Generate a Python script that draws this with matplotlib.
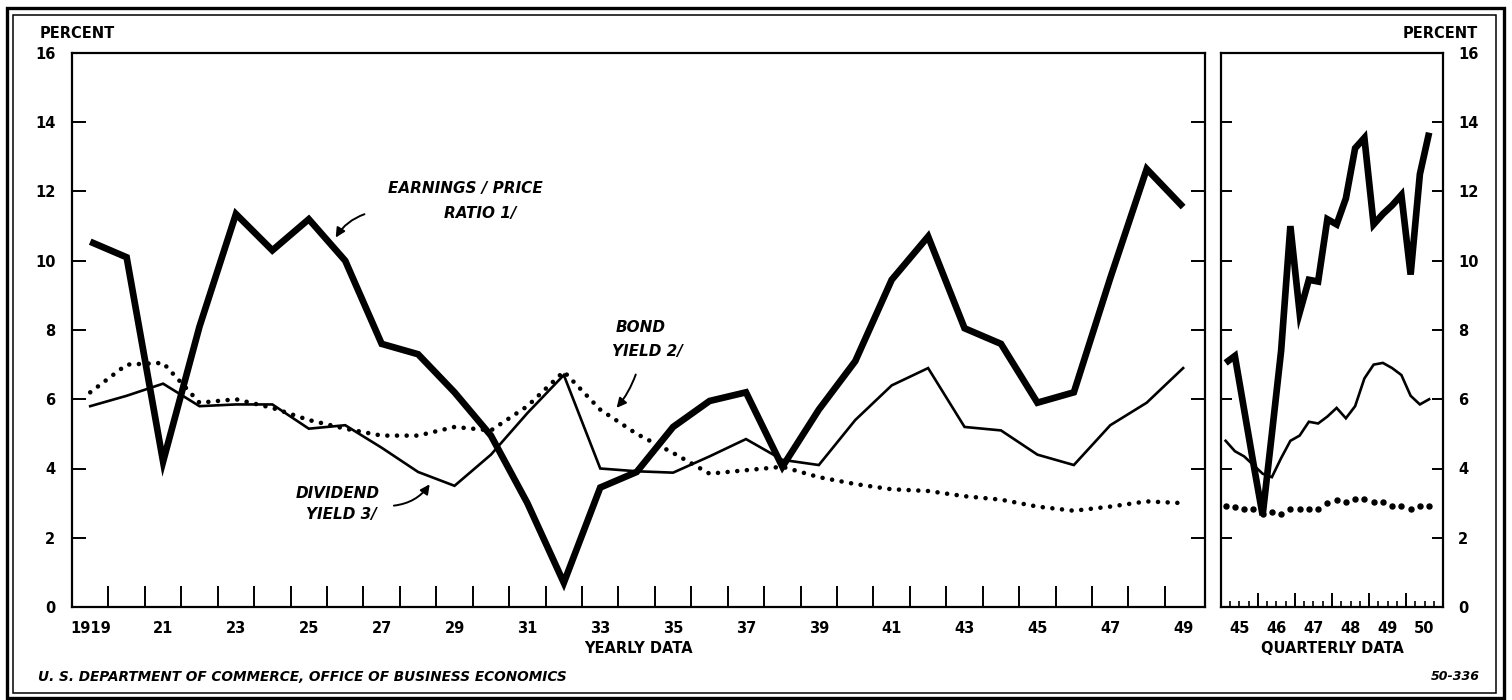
import matplotlib.pyplot as plt
from matplotlib.patches import Rectangle

plt.rcParams['font.family'] = ['DejaVu Sans']
plt.rcParams['font.weight'] = 'bold'
plt.rcParams['axes.labelweight'] = 'bold'

# yearly data, 1919-1949
years = list(range(1919, 1950))
earnings_price = [10.55, 10.1, 4.2, 8.1, 11.35, 10.3, 11.2, 10.0, 7.6, 7.3, 6.2,
                  4.95, 3.0, 0.7, 3.45, 3.9, 5.2, 5.95, 6.2, 4.05, 5.7, 7.1,
                  9.45, 10.7, 8.05, 7.6, 5.9, 6.2, 9.5, 12.65, 11.55]
dividend_yield = [5.8, 6.1, 6.45, 5.8, 5.85, 5.85, 5.15, 5.25, 4.6, 3.9, 3.5,
                  4.4, 5.6, 6.7, 4.0, 3.92, 3.88, 4.35, 4.85, 4.25, 4.1, 5.4,
                  6.4, 6.9, 5.2, 5.1, 4.4, 4.1, 5.25, 5.9, 6.9]
bond_yield = [6.2, 7.0, 7.05, 5.9, 6.0, 5.75, 5.4, 5.15, 4.95, 4.95, 5.2,
              5.1, 5.8, 6.8, 5.7, 5.0, 4.45, 3.85, 3.95, 4.05, 3.75, 3.55,
              3.4, 3.35, 3.2, 3.1, 2.9, 2.78, 2.9, 3.05, 3.0]
year_ticks = list(range(1919, 1950, 2))
year_labels = ['1919', '21', '23', '25', '27', '29', '31', '33', '35', '37',
               '39', '41', '43', '45', '47', '49']

# quarterly data, 1945 I - 1950 III
quarters = list(range(23))
q_earnings_price = [7.05, 7.25, 5.7, 4.15, 2.65, 5.0, 7.4, 11.0, 8.5, 9.45, 9.4,
                    11.2, 11.05, 11.8, 13.25, 13.55, 11.05, 11.35, 11.6, 11.9,
                    9.6, 12.5, 13.7]
q_dividend_yield = [4.8, 4.5, 4.35, 4.1, 3.85, 3.75, 4.3, 4.8, 4.95, 5.35, 5.3,
                    5.5, 5.75, 5.45, 5.8, 6.6, 7.0, 7.05, 6.9, 6.7, 6.1, 5.85, 6.0]
q_bond_yield = [2.93, 2.88, 2.84, 2.82, 2.7, 2.73, 2.7, 2.84, 2.82, 2.82, 2.82,
                2.99, 3.1, 3.02, 3.13, 3.13, 3.02, 3.02, 2.93, 2.91, 2.82,
                2.91, 2.91]
quarter_labels = ['45', '46', '47', '48', '49', '50']

y_ticks = [0, 2, 4, 6, 8, 10, 12, 14, 16]

W, H = 1512, 700
fig = plt.figure(figsize=(W / 100, H / 100), dpi=100)


def px_box(x0, y0, x1, y1):
    """pixel box (top-left origin) -> figure fraction rect"""
    return [x0 / W, (H - y1) / H, (x1 - x0) / W, (y1 - y0) / H]


ax = fig.add_axes(px_box(72, 53, 1205, 607))
ax2 = fig.add_axes(px_box(1221, 53, 1443, 607))

thick = dict(color='black', lw=4.8, solid_joinstyle='miter', solid_capstyle='butt')
thin = dict(color='black', lw=1.9, solid_joinstyle='miter')
dots = dict(color='black', lw=3.3, linestyle=(0, (0.01, 2.1)), dash_capstyle='round')

ax.plot(years, earnings_price, **thick)
ax.plot(years, dividend_yield, **thin)
ax.plot(years, bond_yield, **dots)

ax2.plot(quarters, q_earnings_price, **thick)
ax2.plot(quarters, q_dividend_yield, **thin)
ax2.plot(quarters, q_bond_yield, 'o', color='black', ms=3.6)

for a in (ax, ax2):
    a.set_ylim(0, 16)
    a.set_yticks(y_ticks)
    for s in a.spines.values():
        s.set_linewidth(1.6)
    a.tick_params(axis='both', which='both', direction='in', width=1.4, labelsize=10.5)

# yearly panel
ax.set_xlim(1918.5, 1949.6)
ax.set_xticks(year_ticks, year_labels)
ax.set_xticks([y + 0.5 for y in years[:-1]], minor=True)
ax.tick_params(axis='x', which='major', length=0, pad=10)
ax.tick_params(axis='x', which='minor', length=15)
ax.tick_params(axis='y', length=10, pad=12, left=True, right=True)
ax.set_xlabel('YEARLY DATA', fontsize=10.5, labelpad=4)

# quarterly panel
ax2.set_xlim(-0.5, 23.5)
ax2.set_xticks([1.5, 5.5, 9.5, 13.5, 17.5, 21.5], quarter_labels)
ax2.set_xticks([3.5, 7.5, 11.5, 15.5, 19.5], minor=True)
ax2.tick_params(axis='x', which='major', length=0, pad=10)
ax2.tick_params(axis='x', which='minor', length=10)
ax2.tick_params(axis='y', length=8, pad=11, left=True, right=True,
                labelleft=False, labelright=True)
ax2.set_xlabel('QUARTERLY DATA', fontsize=10.5, labelpad=4)
sec = ax2.secondary_xaxis('bottom')
sec.set_xticks([q + 0.5 for q in quarters])
sec.tick_params(direction='in', length=4.5, width=1.2, labelbottom=False)
sec.spines['bottom'].set_visible(False)

# labels on the lines
lab = dict(fontsize=11, fontstyle='italic', fontweight='bold', ha='center', va='center')
arrow = dict(arrowstyle='-|>', color='black', lw=1.4, mutation_scale=14)
ax.text(1929.3, 12.1, 'EARNINGS / PRICE', **lab)
ax.text(1929.7, 11.36, 'RATIO 1/', **lab)
ax.annotate('', xy=(1925.7, 10.6), xytext=(1926.6, 11.37),
            arrowprops=dict(connectionstyle='arc3,rad=0.2', **arrow))
ax.text(1934.1, 8.06, 'BOND', **lab)
ax.text(1934.3, 7.37, 'YIELD 2/', **lab)
ax.annotate('', xy=(1933.4, 5.69), xytext=(1934.0, 6.79),
            arrowprops=dict(connectionstyle='arc3,rad=-0.1', **arrow))
ax.text(1925.8, 3.29, 'DIVIDEND', **lab)
ax.text(1925.9, 2.66, 'YIELD 3/', **lab)
ax.annotate('', xy=(1928.36, 3.61), xytext=(1927.26, 2.92),
            arrowprops=dict(connectionstyle='arc3,rad=0.25', **arrow))

fig.text(40 / W, 1 - 34 / H, 'PERCENT', fontsize=10.5, va='center', ha='left')
fig.text(1478 / W, 1 - 34 / H, 'PERCENT', fontsize=10.5, va='center', ha='right')
fig.text(38 / W, 1 - 677 / H, 'U. S. DEPARTMENT OF COMMERCE, OFFICE OF BUSINESS ECONOMICS',
         fontsize=9.8, fontstyle='italic', va='center', ha='left')
fig.text(1480 / W, 1 - 677 / H, '50-336', fontsize=9, fontstyle='italic',
         va='center', ha='right')

# double border round the whole chart
fig.add_artist(Rectangle((6.5 / W, 1 - 698 / H), (1504 - 6.5) / W, (698 - 8) / H,
                         transform=fig.transFigure, fill=False, lw=2.4, color='black'))
fig.add_artist(Rectangle((13 / W, 1 - 693 / H), (1496 - 13) / W, (693 - 15) / H,
                         transform=fig.transFigure, fill=False, lw=1.1, color='black'))

fig.savefig('out.png', dpi=100, facecolor='white')
